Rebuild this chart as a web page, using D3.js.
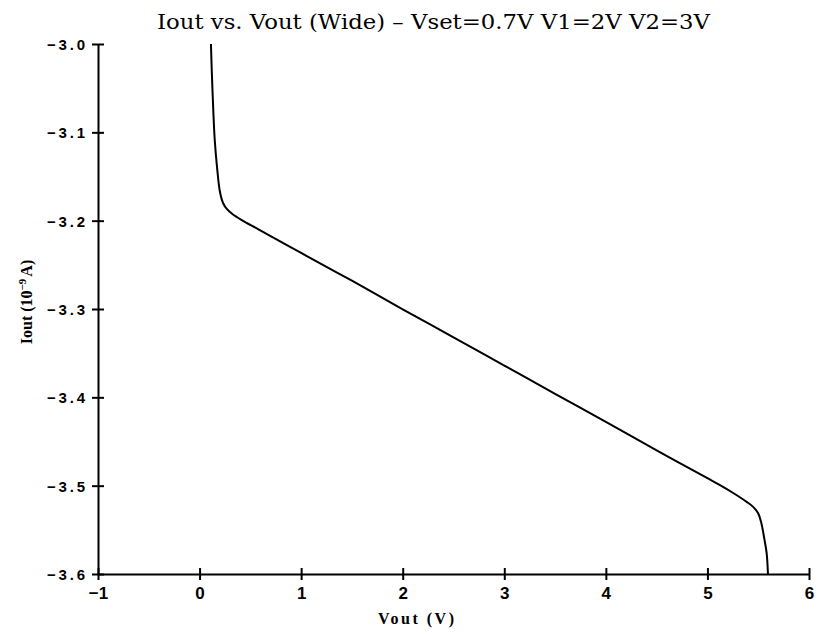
<!DOCTYPE html>
<html><head><meta charset="utf-8">
<script src="https://cdn.jsdelivr.net/npm/d3@7"></script>
<style>body{margin:0;background:#fff;} svg{display:block;}</style>
</head><body>
<svg id="c" width="822" height="638"></svg>
<script>
const titleText = "Iout vs. Vout (Wide) \u2013 Vset=0.7V  V1=2V  V2=3V";
const xTicks = [-1, 0, 1, 2, 3, 4, 5, 6];
const yTicks = [-3.0, -3.1, -3.2, -3.3, -3.4, -3.5, -3.6];
const vout = [0.112, 0.120, 0.135, 0.150, 0.175, 0.200, 0.231, 0.270, 0.329, 0.420, 0.575, 1.0, 1.5, 2.0, 2.5, 3.0, 3.5, 4.0, 4.5, 5.0, 5.124, 5.25, 5.386, 5.45, 5.498, 5.530, 5.560, 5.583, 5.596];
const iout = [-3.000, -3.030, -3.075, -3.110, -3.143, -3.167, -3.180, -3.187, -3.193, -3.1996, -3.2095, -3.2366, -3.268, -3.3003, -3.332, -3.364, -3.396, -3.4277, -3.460, -3.4915, -3.4994, -3.508, -3.5183, -3.524, -3.531, -3.542, -3.560, -3.5764, -3.600];

const svg = d3.select("#c");
const m = {l: 98, r: 809, t: 44, b: 574};
const x = d3.scaleLinear().domain([-1, 6]).range([m.l, m.r]);
const y = d3.scaleLinear().domain([-3.6, -3.0]).range([m.b, m.t]);

const fmtY = d => (d < 0 ? "\u2212" : "") + Math.abs(d).toFixed(1);
const fmtX = d => (d < 0 ? "\u2212" : "") + Math.abs(d);

// x axis
const gx = svg.append("g").attr("transform", `translate(0,${m.b})`)
  .call(d3.axisBottom(x).tickValues(xTicks).tickSize(0).tickFormat(fmtX).tickPadding(0));
gx.select(".domain").attr("stroke", "#000").attr("stroke-width", 2);
gx.selectAll(".tick line").attr("y1", -6).attr("y2", 6).attr("stroke", "#000").attr("stroke-width", 2);
gx.selectAll(".tick text").attr("y", 25).attr("dy", 0)
  .attr("font-family", "Liberation Sans, Arial, sans-serif").attr("font-weight", "bold")
  .attr("font-size", 17).attr("fill", "#000");

// y axis
const gy = svg.append("g").attr("transform", `translate(${m.l},0)`)
  .call(d3.axisLeft(y).tickValues(yTicks).tickSize(0).tickFormat(fmtY).tickPadding(0));
gy.select(".domain").attr("stroke", "#000").attr("stroke-width", 2);
gy.selectAll(".tick line").attr("x1", -6).attr("x2", 6).attr("stroke", "#000").attr("stroke-width", 2);
gy.selectAll(".tick text").attr("x", -13).attr("dy", "0.36em")
  .attr("font-family", "Liberation Sans, Arial, sans-serif").attr("font-weight", "bold")
  .attr("font-size", 15).attr("fill", "#000")
  .attr("textLength", 38).attr("lengthAdjust", "spacing");

// curve
const pts = vout.map((v, i) => [v, iout[i]]);
svg.append("path").datum(pts)
  .attr("fill", "none").attr("stroke", "#000").attr("stroke-width", 2)
  .attr("d", d3.line().x(d => x(d[0])).y(d => y(d[1])).curve(d3.curveCatmullRom.alpha(0.5)));

// title
svg.append("text").attr("x", 157).attr("y", 29)
  .attr("font-family", "DejaVu Serif, serif").attr("font-size", 20)
  .attr("fill", "#000").attr("textLength", 553).attr("lengthAdjust", "spacingAndGlyphs")
  .text(titleText);

// x label
svg.append("text").attr("x", 416).attr("y", 624).attr("text-anchor", "middle")
  .attr("font-family", "Liberation Serif, serif").attr("font-weight", "bold")
  .attr("font-size", 16).attr("fill", "#000")
  .attr("textLength", 76).attr("lengthAdjust", "spacing").text("Vout  (V)");

// y label
const yl = svg.append("text").attr("transform", `translate(32,302) rotate(-90)`)
  .attr("text-anchor", "middle")
  .attr("font-family", "Liberation Serif, serif").attr("font-weight", "bold")
  .attr("font-size", 16).attr("fill", "#000");
yl.append("tspan").text("Iout  (10");
yl.append("tspan").attr("baseline-shift", "super").attr("font-size", 11).text("\u22129");
yl.append("tspan").attr("dx", 2).text("A)");
</script>
</body></html>
